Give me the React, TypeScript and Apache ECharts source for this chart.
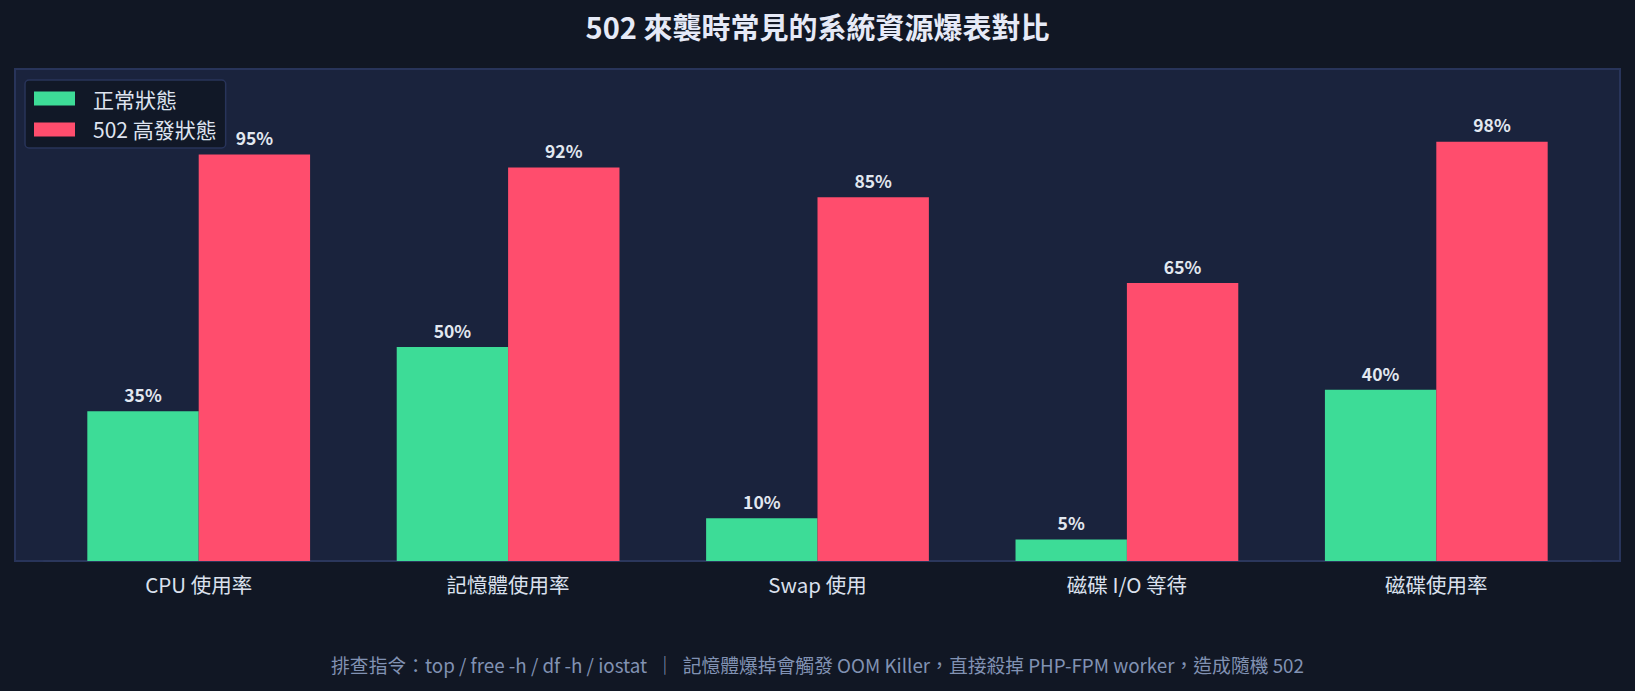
import { useEffect, useRef } from 'react'
import * as echarts from 'echarts'

const categories = ['CPU 使用率', '記憶體使用率', 'Swap 使用', '磁碟 I/O 等待', '磁碟使用率']
const normalValues = [35, 50, 10, 5, 40]
const peakValues = [95, 92, 85, 65, 98]
const seriesNames = ['正常狀態', '502 高發狀態']

const titleText = '502 來襲時常見的系統資源爆表對比'
const footerText =
  '排查指令：top / free -h / df -h / iostat  ｜  記憶體爆掉會觸發 OOM Killer，直接殺掉 PHP-FPM worker，造成隨機 502'

const FONT = '"Noto Sans CJK TC", "Noto Sans", sans-serif'

const App = () => {
  const chartEl = useRef<HTMLDivElement | null>(null)

  useEffect(() => {
    document.body.style.margin = '0'
    if (!chartEl.current) return
    const chart = echarts.init(chartEl.current, null, { renderer: 'svg' })

    const barLabel = {
      show: true,
      position: 'top',
      distance: 8,
      formatter: '{c}%',
      color: '#e2e8f0',
      fontSize: 17.5,
      fontWeight: 'bold',
      fontFamily: FONT
    }

    const option = {
      animation: false,
      backgroundColor: '#111724',
      textStyle: { fontFamily: FONT },
      title: {
        text: titleText,
        left: 'center',
        top: 6,
        textStyle: { color: '#e6eaf7', fontSize: 29, fontWeight: 'bold', fontFamily: FONT }
      },
      // рамка области графика и подпись снизу
      graphic: [
        {
          type: 'rect',
          z: -10,
          shape: { x: 15, y: 69, width: 1605, height: 492 },
          style: { fill: '#1a233d', stroke: '#28345a', lineWidth: 2 }
        },
        {
          type: 'text',
          x: 817.5,
          y: 664,
          style: {
            text: footerText,
            fill: '#8192b3',
            fontSize: 18.8,
            fontFamily: FONT,
            textAlign: 'center',
            textVerticalAlign: 'middle'
          }
        }
      ],
      legend: {
        left: 25,
        top: 80,
        orient: 'vertical',
        data: seriesNames,
        icon: 'rect',
        itemWidth: 41,
        itemHeight: 14,
        itemGap: 10,
        padding: [8, 9, 8, 9],
        backgroundColor: '#111827',
        borderColor: '#28345a',
        borderWidth: 1.5,
        borderRadius: 4,
        textStyle: { color: '#dfe4f0', fontSize: 21, fontFamily: FONT, padding: [0, 0, 0, 13] }
      },
      grid: { left: 44, right: 44, top: 69, bottom: 130 },
      xAxis: {
        type: 'category',
        data: categories,
        axisLine: { lineStyle: { color: '#2b375c', width: 2 } },
        axisTick: { alignWithLabel: true, length: 6, lineStyle: { color: '#7b8ba8', width: 2 } },
        axisLabel: { color: '#dbe1ee', fontSize: 20.5, margin: 13, fontFamily: FONT }
      },
      yAxis: { type: 'value', show: false, min: 0, max: 115 },
      series: [
        {
          name: seriesNames[0],
          type: 'bar',
          data: normalValues,
          barWidth: '36%',
          barGap: '0%',
          itemStyle: { color: '#3ddc97' },
          label: barLabel
        },
        {
          name: seriesNames[1],
          type: 'bar',
          data: peakValues,
          barWidth: '36%',
          itemStyle: { color: '#ff4d6d' },
          label: barLabel
        }
      ]
    }

    chart.setOption(option)
    return () => {
      chart.dispose()
    }
  }, [])

  return <div ref={chartEl} style={{ width: 1635, height: 691 }} />
}

export default App
